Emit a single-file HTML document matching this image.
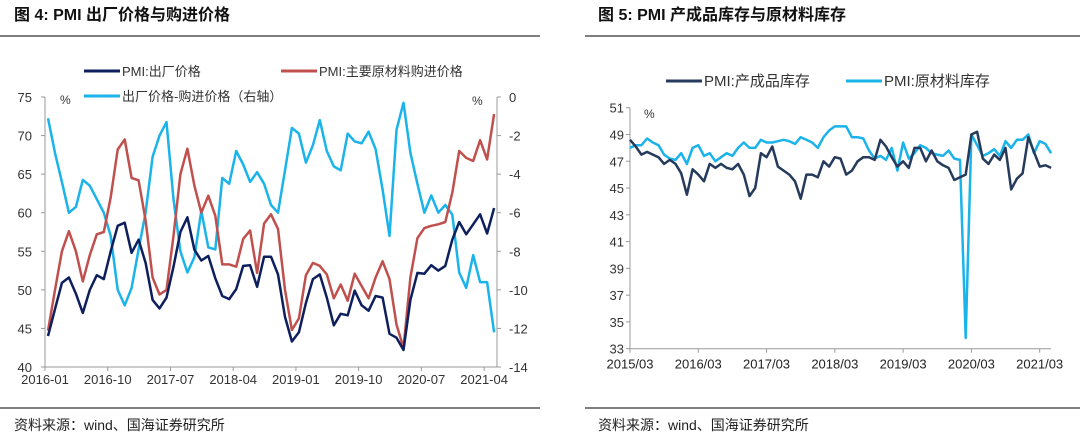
<!DOCTYPE html>
<html><head><meta charset="utf-8">
<style>
body{margin:0;background:#fff;width:1080px;height:442px;overflow:hidden;font-family:"Liberation Sans","Noto Sans CJK SC",sans-serif;}
svg text{font-family:"Liberation Sans","Noto Sans CJK SC",sans-serif;}
</style></head><body>
<svg id="svg" width="1080" height="442" viewBox="0 0 1080 442">
<text x="14" y="20" font-size="16" font-weight="bold" fill="#111">图 4:  PMI 出厂价格与购进价格</text>
<line x1="0" y1="36" x2="540" y2="36" stroke="#333" stroke-width="1.2"/>
<text x="598" y="20" font-size="16" font-weight="bold" fill="#111">图 5:  PMI 产成品库存与原材料库存</text>
<line x1="585" y1="36" x2="1080" y2="36" stroke="#333" stroke-width="1.2"/>
<line x1="0" y1="408" x2="540" y2="408" stroke="#333" stroke-width="1.2"/>
<line x1="585" y1="408" x2="1080" y2="408" stroke="#333" stroke-width="1.2"/>
<text x="14" y="430" font-size="14" fill="#222">资料来源：wind、国海证券研究所</text>
<text x="598" y="430" font-size="14" fill="#222">资料来源：wind、国海证券研究所</text>
<g id="left"></g>
<g id="right"></g>
</svg>
<script>
const leftTicksX = ["2016-01","2016-10","2017-07","2018-04","2019-01","2019-10","2020-07","2021-04"];
const leftTicksY = [40,45,50,55,60,65,70,75];
const leftTicksY2 = [0,-2,-4,-6,-8,-10,-12,-14];
const outPrice = [44.0,47.5,50.9,51.6,49.5,47.0,50.0,51.9,51.4,55.0,58.3,58.7,54.8,56.5,53.5,48.7,47.6,49.0,53.0,57.5,59.4,55.2,53.8,54.4,51.5,49.2,48.8,50.1,53.1,53.2,50.4,54.3,54.3,52.0,46.5,43.3,44.5,48.3,51.4,52.0,49.0,45.4,46.9,46.7,49.9,48.0,47.3,49.2,49.0,44.3,43.8,42.2,48.7,52.2,52.1,53.2,52.5,53.1,56.5,58.8,57.2,58.5,59.8,57.3,60.6];
const inPrice = [44.7,50.0,55.0,57.6,55.0,51.1,54.5,57.2,57.5,62.0,68.2,69.5,64.5,64.2,59.0,51.6,49.4,50.0,57.0,65.0,68.3,63.5,60.0,62.2,59.6,53.3,53.3,53.0,56.6,57.7,52.2,58.6,59.8,57.9,50.0,44.8,46.3,51.9,53.5,53.1,52.0,48.9,50.7,48.6,52.1,50.5,48.9,51.6,53.7,51.4,45.5,42.5,51.6,56.7,58.0,58.3,58.5,58.8,62.6,68.0,67.1,66.7,69.4,66.9,72.8];
const priceGap = [-1.1,-2.9,-4.4,-6.0,-5.7,-4.3,-4.6,-5.3,-6.0,-7.2,-10.0,-10.8,-9.9,-7.9,-6.0,-3.1,-2.0,-1.3,-5.3,-8.0,-9.1,-8.3,-5.9,-7.8,-7.9,-4.2,-4.5,-2.8,-3.5,-4.4,-3.9,-4.5,-5.6,-6.0,-3.8,-1.6,-1.9,-3.4,-2.5,-1.2,-2.8,-3.6,-3.8,-1.9,-2.3,-2.4,-1.8,-2.7,-4.8,-7.2,-1.7,-0.3,-2.9,-4.5,-6.0,-5.1,-6.0,-5.6,-6.1,-9.1,-9.9,-8.2,-9.6,-9.6,-12.2];

const rightTicksX = ["2015/03","2016/03","2017/03","2018/03","2019/03","2020/03","2021/03"];
const rightTicksY = [33,35,37,39,41,43,45,47,49,51];
const finishedInv = [48.6,48.1,47.5,47.7,47.5,47.3,46.8,47.1,46.8,46.1,44.5,46.4,46.0,45.5,46.8,46.5,46.8,46.5,46.4,46.8,46.0,44.4,45.0,47.6,47.3,48.1,46.6,46.3,46.0,45.5,44.2,46.0,46.0,45.8,47.0,46.6,47.3,47.2,46.0,46.3,47.0,47.3,47.3,47.1,48.6,48.1,47.3,46.6,47.0,46.5,48.0,48.0,47.0,47.8,47.0,46.7,46.5,45.6,45.8,46.0,49.0,49.2,47.2,46.8,47.5,47.1,48.0,44.9,45.7,46.1,48.8,47.7,46.6,46.7,46.5];
const rawInv = [48.0,48.2,48.2,48.7,48.4,48.2,47.5,47.2,47.1,47.6,46.8,48.0,48.2,47.4,47.6,47.0,47.3,47.6,47.4,48.0,48.4,48.0,48.0,48.6,48.4,48.4,48.5,48.6,48.5,48.3,48.8,48.6,48.4,48.0,48.8,49.3,49.6,49.6,49.6,48.8,48.8,48.7,47.8,47.2,47.4,47.1,48.0,46.3,48.4,47.2,47.6,48.2,48.0,47.6,47.5,47.4,47.8,47.2,47.1,33.8,49.0,48.2,47.4,47.6,47.9,47.4,48.5,48.0,48.6,48.6,49.0,47.6,48.5,48.3,47.6];

const NS="http://www.w3.org/2000/svg";
function mk(parent,tag,attrs,text){const e=document.createElementNS(NS,tag);for(const k in attrs)e.setAttribute(k,attrs[k]);if(text!==undefined)e.textContent=text;parent.appendChild(e);return e;}

// LEFT
const L=document.getElementById('left');
const lx0=45,lx1=497,ly0=97,ly1=367;
const lX=i=>48+i*6.97;
const lY=v=>ly1-(v-40)/35*(ly1-ly0);
const lY2=v=>ly0+(-v)/14*(ly1-ly0);
let e=mk(L,'line',{x1:lx0,y1:ly0,x2:lx0,y2:ly1,stroke:'#999'});


e=mk(L,'line',{x1:lx1,y1:ly0,x2:lx1,y2:ly1,stroke:'#999'});


e=mk(L,'line',{x1:lx0,y1:ly1,x2:lx1,y2:ly1,stroke:'#999'});


leftTicksY.forEach(v=>{const y=lY(v);
 mk(L,'line',{x1:lx0-4,y1:y,x2:lx0,y2:y,stroke:'#999'});
 const t=mk(L,'text',{x:lx0-13,y:y+5,'font-size':13,'text-anchor':'end',fill:'#333'},v);
 
 });
leftTicksY2.forEach(v=>{const y=lY2(v);
 mk(L,'line',{x1:lx1,y1:y,x2:lx1+4,y2:y,stroke:'#999'});
 const t=mk(L,'text',{x:lx1+12,y:y+5,'font-size':13,fill:'#333'},v);
 
 });
leftTicksX.forEach((s,k)=>{const x=lx0+k*9*6.97;
 mk(L,'line',{x1:x,y1:ly1,x2:x,y2:ly1+4,stroke:'#999'});
 const t=mk(L,'text',{x:x,y:ly1+17,'font-size':13,'text-anchor':'middle',fill:'#333'},s);
 
 });
e=mk(L,'text',{x:60,y:104,'font-size':12,fill:'#333'},'%');


e=mk(L,'text',{x:472,y:105,'font-size':12,fill:'#333'},'%');


function line(parent,arr,fx,fy,color,name){const d=arr.map((v,i)=>(i?'L':'M')+fx(i).toFixed(1)+' '+fy(v).toFixed(1)).join(' ');
 const p=mk(parent,'path',{d:d,fill:'none',stroke:color,'stroke-width':2.5,'stroke-linejoin':'round'});
 
 }
line(L,priceGap,lX,lY2,'#1ab3ea','line-price-gap');
line(L,inPrice,lX,lY,'#c0504d','line-input-price');
line(L,outPrice,lX,lY,'#0d1f5c','line-output-price');
function legend(parent,x,y,color,label,name){const g=mk(parent,'g',{});
 
 
 mk(g,'line',{x1:x,y1:y,x2:x+36,y2:y,stroke:color,'stroke-width':3});
 mk(g,'text',{x:x+38,y:y+5,'font-size':13,fill:'#333'},label);}
legend(L,84,71,'#0d1f5c','PMI:出厂价格','legend-output-price');
legend(L,281,71,'#c0504d','PMI:主要原材料购进价格','legend-input-price');
legend(L,84,96,'#1ab3ea','出厂价格-购进价格（右轴）','legend-price-gap');

// RIGHT
const R=document.getElementById('right');
const rx0=630,rx1=1051,ry0=107.7,ry1=348.7;
const rX=i=>630+i*5.69;
const rY=v=>ry1-(v-33)/18*(ry1-ry0);
e=mk(R,'line',{x1:rx0,y1:ry0,x2:rx0,y2:ry1,stroke:'#999'});


e=mk(R,'line',{x1:rx0,y1:ry1,x2:rx1,y2:ry1,stroke:'#999'});


rightTicksY.forEach(v=>{const y=rY(v);
 mk(R,'line',{x1:rx0-4,y1:y,x2:rx0,y2:y,stroke:'#999'});
 const t=mk(R,'text',{x:rx0-6,y:y+5,'font-size':13,'text-anchor':'end',fill:'#333'},v);
 
 });
rightTicksX.forEach((s,k)=>{const x=rx0+k*12*5.69;
 mk(R,'line',{x1:x,y1:ry1,x2:x,y2:ry1+4,stroke:'#999'});
 const t=mk(R,'text',{x:x,y:ry1+20,'font-size':13,'text-anchor':'middle',fill:'#222'},s);
 
 });
e=mk(R,'text',{x:644,y:118,'font-size':12,fill:'#333'},'%');


line(R,rawInv,rX,rY,'#1ab3ea','line-raw-material-inventory');
line(R,finishedInv,rX,rY,'#263a5c','line-finished-goods-inventory');
legend(R,666,81,'#263a5c','PMI:产成品库存','legend-finished-goods-inventory');
legend(R,846,81,'#1ab3ea','PMI:原材料库存','legend-raw-material-inventory');
R.querySelectorAll('text').forEach(t=>{if(t.parentNode.tagName==='g'&&t.parentNode!==R)t.setAttribute('font-size',15);});
</script>
</body></html>
